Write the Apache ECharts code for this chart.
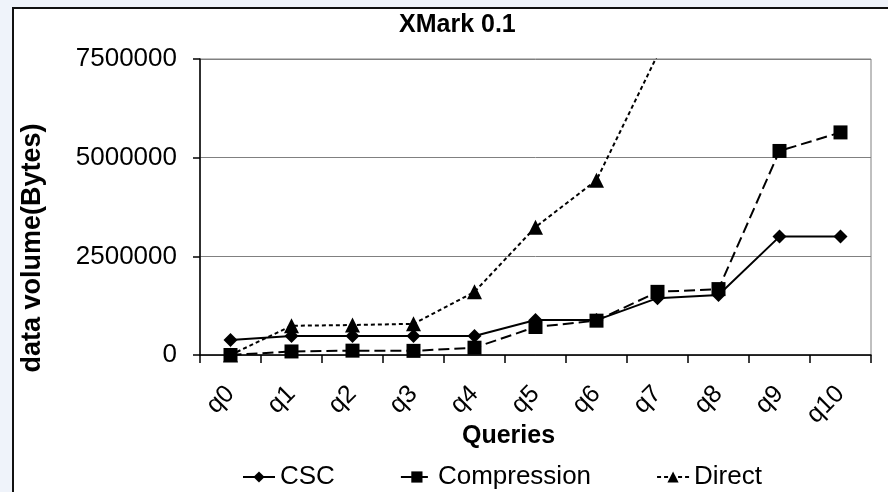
<!DOCTYPE html>
<html>
<head>
<meta charset="utf-8">
<script src="https://cdn.jsdelivr.net/npm/echarts@6/dist/echarts.min.js"></script>
<style>
  html, body { margin: 0; padding: 0; background: #eff3fa; }
  .frame {
    position: absolute; left: 12px; top: 7px; width: 900px; height: 500px;
    background: #fff; border-left: 2px solid #111; border-top: 2px solid #111;
  }
  #chart { position: absolute; left: 0; top: 0; width: 888px; height: 492px; }
</style>
</head>
<body>
<div class="frame"></div>
<div id="chart"></div>
<script>
// categories and series values
const queries = ['q0', 'q1', 'q2', 'q3', 'q4', 'q5', 'q6', 'q7', 'q8', 'q9', 'q10']
const csc = [380000, 480000, 480000, 480000, 480000, 885000, 885000, 1440000, 1520000, 3000000, 3000000]
const compression = [0, 90000, 110000, 105000, 185000, 710000, 870000, 1600000, 1670000, 5170000, 5640000]
// Direct leaves the plot after q7, later values cannot be read
const direct = [0, 740000, 760000, 790000, 1600000, 3240000, 4430000, 7600000, null, null, null]
const yTicks = [0, 2500000, 5000000, 7500000]

const font = 'Liberation Sans, Arial, sans-serif'
const chart = echarts.init(document.getElementById('chart'), null, { renderer: 'canvas' })

chart.setOption({
  backgroundColor: 'transparent',
  animation: false,
  title: {
    text: 'XMark 0.1',
    left: 394,
    top: 8,
    textStyle: { fontFamily: font, fontSize: 25, fontWeight: 'bold', color: '#000' }
  },
  legend: {
    left: 237,
    top: 459,
    itemGap: 65,
    itemWidth: 32,
    itemHeight: 14,
    textStyle: { fontFamily: font, fontSize: 26, color: '#000' },
    data: ['CSC', 'Compression', 'Direct']
  },
  grid: {
    left: 200, right: 17, top: 59, bottom: 137,
    show: true, borderColor: '#808080', borderWidth: 1, backgroundColor: 'transparent'
  },
  xAxis: {
    type: 'category',
    data: queries,
    boundaryGap: true,
    name: 'Queries',
    nameLocation: 'middle',
    nameGap: 69,
    nameMoveOverlap: false,
    nameTextStyle: { fontFamily: font, fontSize: 25, fontWeight: 'bold', color: '#000', padding: [0, 54, 0, 0] },
    axisLine: { lineStyle: { color: '#000', width: 1.5 } },
    axisTick: { show: true, length: 8, lineStyle: { color: '#000', width: 1.5 } },
    axisLabel: { rotate: 45, margin: 35, fontFamily: font, fontSize: 25, color: '#000' }
  },
  yAxis: {
    type: 'value',
    min: yTicks[0],
    max: yTicks[yTicks.length - 1],
    interval: yTicks[1] - yTicks[0],
    name: 'data volume(Bytes)',
    nameLocation: 'middle',
    nameRotate: 90,
    nameGap: 154,
    nameMoveOverlap: false,
    nameTextStyle: { fontFamily: font, fontSize: 27, fontWeight: 'bold', color: '#000', padding: [0, 82, 0, 0] },
    axisLine: { show: true, lineStyle: { color: '#000', width: 1.5 } },
    axisTick: { show: true, length: 7, lineStyle: { color: '#000', width: 1.5 } },
    axisLabel: { margin: 23, fontFamily: font, fontSize: 26, color: '#000', formatter: v => String(v) },
    splitLine: { show: true, lineStyle: { color: '#808080', width: 1 } }
  },
  series: [
    {
      name: 'CSC',
      type: 'line',
      data: csc,
      symbol: 'diamond',
      symbolSize: 14,
      itemStyle: { color: '#000' },
      lineStyle: { color: '#000', width: 2, type: 'solid' }
    },
    {
      name: 'Compression',
      type: 'line',
      data: compression,
      symbol: 'rect',
      symbolSize: 14,
      itemStyle: { color: '#000' },
      lineStyle: { color: '#000', width: 2, type: [11, 5] }
    },
    {
      name: 'Direct',
      type: 'line',
      data: direct,
      symbol: 'triangle',
      symbolSize: 15,
      clip: true,
      itemStyle: { color: '#000' },
      lineStyle: { color: '#000', width: 2, type: [4, 3] }
    }
  ]
})
</script>
</body>
</html>
